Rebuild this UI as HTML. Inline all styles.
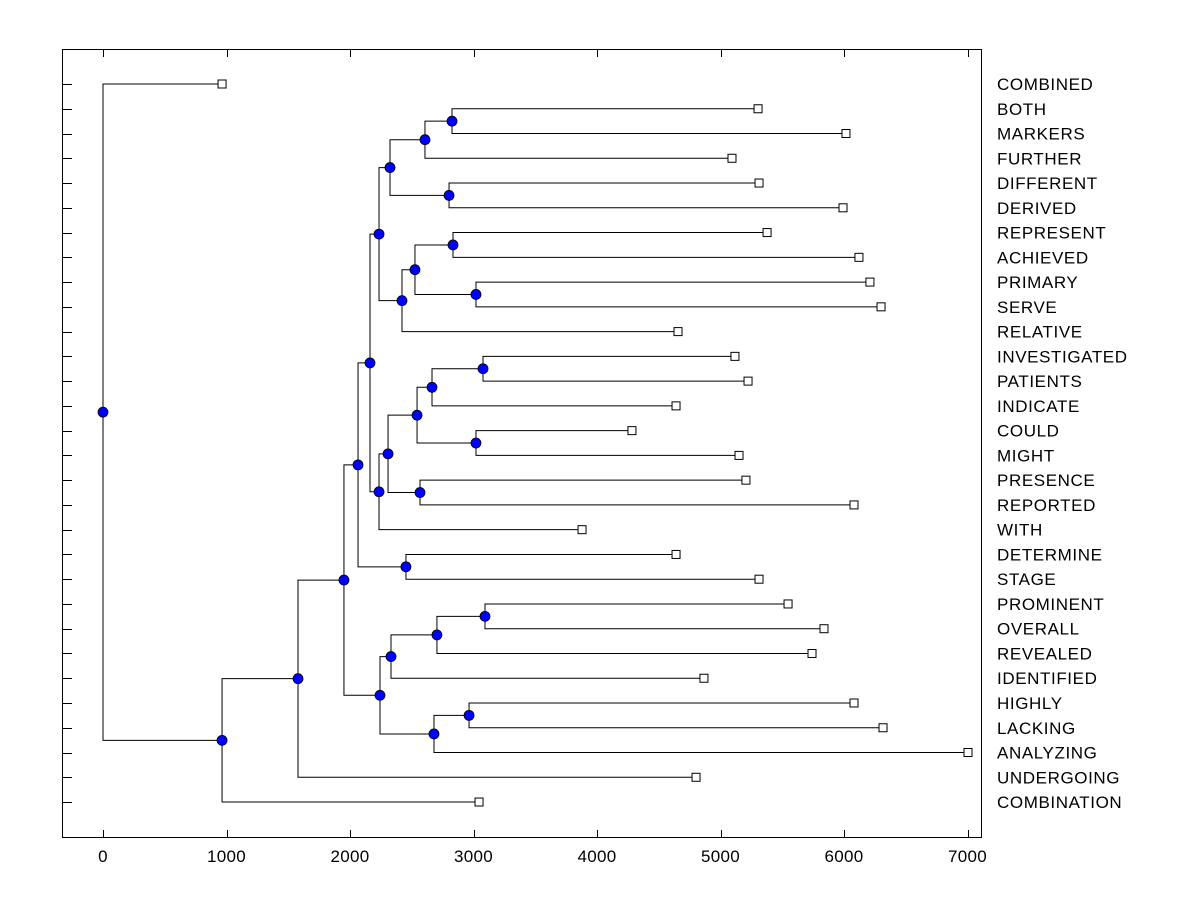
<!DOCTYPE html>
<html><head><meta charset="utf-8"><style>
body{margin:0;background:#fff}
svg{display:block;font-family:"Liberation Sans",Arial,sans-serif}
</style></head><body>
<svg id="chart" width="1200" height="900" viewBox="0 0 1200 900">
<rect x="62.5" y="49.5" width="919" height="788" fill="none" stroke="#000" stroke-width="1"/>
<g id="axis"></g><g id="links"></g><g id="marks"></g><g id="labels"></g>
</svg>
<script>
const leafLabels=["COMBINED","BOTH","MARKERS","FURTHER","DIFFERENT","DERIVED","REPRESENT","ACHIEVED","PRIMARY","SERVE","RELATIVE","INVESTIGATED","PATIENTS","INDICATE","COULD","MIGHT","PRESENCE","REPORTED","WITH","DETERMINE","STAGE","PROMINENT","OVERALL","REVEALED","IDENTIFIED","HIGHLY","LACKING","ANALYZING","UNDERGOING","COMBINATION"];
const leafValues=[964,5304,6016,5093,5312,5992,5377,6121,6210,6300,4656,5117,5223,4640,4283,5150,5206,6081,3879,4640,5312,5547,5838,5741,4866,6081,6316,7004,4802,3045];
const mergeLeft=[1,30,4,31,6,8,34,36,33,11,39,14,40,16,42,44,38,19,46,21,49,50,25,52,51,48,55,56,0];
const mergeRight=[2,3,5,32,7,9,35,10,37,12,13,15,41,17,43,18,45,20,47,22,23,24,26,27,53,54,28,29,57];
const mergeHeights=[2826,2607,2802,2324,2834,3020,2526,2421,2235,3077,2664,3020,2543,2567,2308,2235,2162,2453,2065,3093,2704,2332,2964,2680,2243,1951,1579,964,0];
const xTicks=[0,1000,2000,3000,4000,5000,6000,7000];

const NS="http://www.w3.org/2000/svg";
const xs=v=>103+v*0.1235;
const ys=i=>84+i*24.76;
function mk(tag,attrs,parent){const e=document.createElementNS(NS,tag);for(const k in attrs)e.setAttribute(k,attrs[k]);document.getElementById(parent).appendChild(e);return e;}

xTicks.forEach(t=>{
  const x=Math.round(xs(t))+0.5;
  let l=mk("line",{x1:x,x2:x,y1:838,y2:830,stroke:"#000"},"axis");
  
  
  l=mk("line",{x1:x,x2:x,y1:49,y2:57,stroke:"#000"},"axis");
  
  
  const tx=mk("text",{x:xs(t),y:862,"text-anchor":"middle","font-size":"17","letter-spacing":"0.3"},"axis");
  tx.textContent=t;
  
  
});
leafLabels.forEach((lab,i)=>{
  const y=Math.round(ys(i))+0.5;
  const l=mk("line",{x1:62,x2:72,y1:y,y2:y,stroke:"#000"},"axis");
  
  
  const t=mk("text",{x:997,y:ys(i)+6,"font-size":"17","letter-spacing":"0.6"},"labels");
  t.textContent=lab;
  
  
});

const N=leafLabels.length;
const nodeX=[],nodeY=[];
leafValues.forEach((v,i)=>{nodeX[i]=xs(v);nodeY[i]=ys(i);});
mergeHeights.forEach((h,k)=>{
  const a=mergeLeft[k],b=mergeRight[k],id=N+k;
  nodeX[id]=xs(h);nodeY[id]=(nodeY[a]+nodeY[b])/2;
  const x=nodeX[id];
  const p=mk("path",{d:`M${nodeX[a]},${nodeY[a]}H${x}V${nodeY[b]}H${nodeX[b]}`,fill:"none",stroke:"#000","stroke-width":"1"},"links");
  
  
});
leafValues.forEach((v,i)=>{
  const r=mk("rect",{x:nodeX[i]-4,y:nodeY[i]-4,width:8,height:8,fill:"#fff",stroke:"#000"},"marks");
  
  
});
mergeHeights.forEach((h,k)=>{
  const id=N+k;
  const c=mk("circle",{cx:nodeX[id],cy:nodeY[id],r:5,fill:"#0000ff",stroke:"#000","stroke-width":"0.8"},"marks");
  
  
});
</script>
</body></html>
